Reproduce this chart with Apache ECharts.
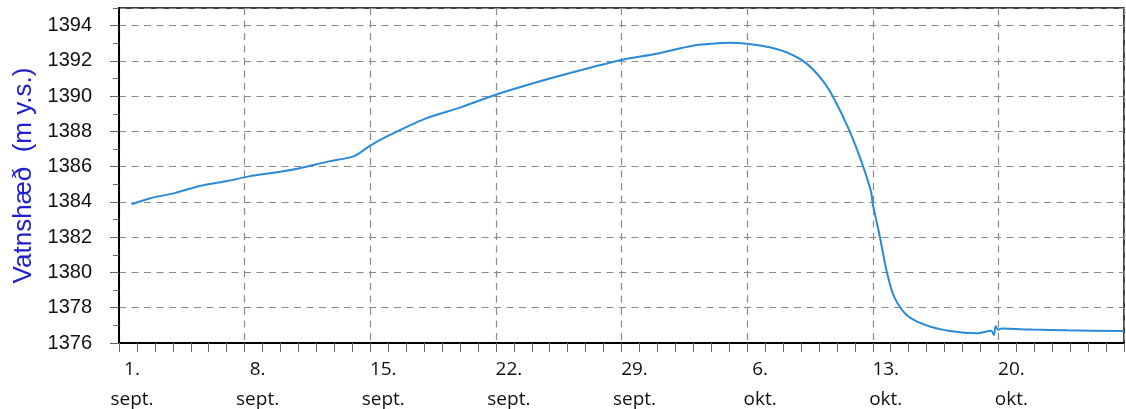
<!DOCTYPE html>
<html>
<head>
<meta charset="utf-8">
<script src="https://cdn.jsdelivr.net/npm/echarts@6/dist/echarts.min.js"></script>
<style>
html,body{margin:0;padding:0;background:#fff;}
#chart{width:1126px;height:409px;}
</style>
</head>
<body>
<div id="chart"></div>
<script>
// days since 1 Sept (0 = 1. sept.)
const days = [0.7, 1.7, 3.1, 4.5, 6.1, 7.25, 8.9, 10.0, 11.7, 13.1, 14.0, 14.8, 17.0, 19.0, 21.2, 24.0, 26.2, 28.05, 29.95, 31.96, 33.0, 34.0, 35.1, 36.25, 37.4, 38.3, 39.2, 39.8, 40.7, 41.4, 41.9, 42.0, 42.4, 42.8, 43.2, 43.9, 45.0, 46.3, 47.8, 48.6, 48.75, 48.85, 49.0, 49.2, 50.9, 52.8, 56.0];
const levels = [1383.87, 1384.2, 1384.5, 1384.9, 1385.2, 1385.45, 1385.7, 1385.9, 1386.3, 1386.6, 1387.2, 1387.65, 1388.7, 1389.35, 1390.15, 1391.0, 1391.6, 1392.07, 1392.4, 1392.86, 1392.97, 1393.03, 1392.96, 1392.77, 1392.4, 1391.86, 1390.9, 1389.94, 1388.05, 1386.2, 1384.6, 1383.9, 1382.0, 1379.96, 1378.6, 1377.58, 1377.0, 1376.68, 1376.55, 1376.7, 1376.45, 1376.95, 1376.75, 1376.82, 1376.76, 1376.72, 1376.68];
const xTickLabels = ['1.\nsept.', '8.\nsept.', '15.\nsept.', '22.\nsept.', '29.\nsept.', '6.\nokt.', '13.\nokt.', '20.\nokt.'];
const yAxisName = 'Vatnshæð  (m y.s.)';

const chart = echarts.init(document.getElementById('chart'));
const data = days.map((d, i) => [d, levels[i]]);
const gridDash = { color: '#8a8a8a', type: [7, 5.5], width: 1.2 };

chart.setOption({
  animation: false,
  grid: { left: 119, right: 2, top: 8, bottom: 66, show: true, borderColor: '#000', borderWidth: 1.5, outerBoundsMode: 'none', containLabel: false },
  xAxis: {
    type: 'value', min: 0, max: 56, interval: 7,
    axisLine: { show: true, lineStyle: { color: '#000', width: 2 } },
    axisTick: { show: true, length: 9, lineStyle: { color: '#666', width: 1 } },
    minorTick: { show: true, splitNumber: 7, length: 9, lineStyle: { color: '#666', width: 1 } },
    splitLine: { show: true, lineStyle: gridDash },
    axisLabel: {
      margin: 12, fontFamily: 'Open Sans', fontSize: 19, lineHeight: 30, color: '#111',
      align: 'center', padding: [0, 0, 0, 26], showMaxLabel: false,
      formatter: v => xTickLabels[Math.round(v / 7)] || ''
    }
  },
  yAxis: [{
    type: 'value', min: 1376, max: 1395, interval: 2,
    name: yAxisName, nameLocation: 'middle', nameRotate: 90, nameGap: 82,
    nameTextStyle: { color: '#2020d0', fontSize: 26, fontFamily: 'Liberation Sans' },
    axisLine: { show: true, lineStyle: { color: '#000', width: 2 } },
    axisTick: { show: true, length: 9, lineStyle: { color: '#666', width: 1 } },
    splitLine: { show: true, lineStyle: gridDash },
    axisLabel: {
      margin: 27, fontFamily: 'Liberation Sans', fontSize: 20, color: '#111', showMaxLabel: false,
      formatter: v => (v % 2 === 0 ? String(v) : '')
    }
  }, {
    type: 'value', min: 1376, max: 1395, interval: 1, position: 'left',
    axisLine: { show: false },
    axisTick: { show: true, length: 6, lineStyle: { color: '#666', width: 1 } },
    splitLine: { show: false },
    axisLabel: { show: false }
  }],
  series: [{
    type: 'line', data: data, yAxisIndex: 0, showSymbol: false, smooth: 0.3,
    lineStyle: { color: '#2a8ad9', width: 2 }
  }]
});
</script>
</body>
</html>
